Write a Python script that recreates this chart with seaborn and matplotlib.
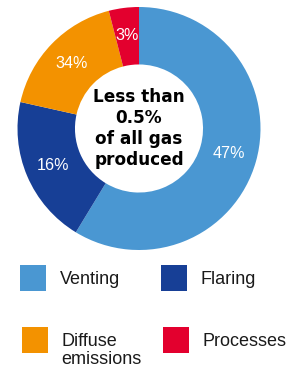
import matplotlib
matplotlib.use("Agg")
import matplotlib.pyplot as plt
import seaborn as sns
import numpy as np
from matplotlib.patches import Rectangle

# data (wedge shares as drawn, labels as printed)
sources = ["Venting", "Flaring", "Diffuse\nemissions", "Processes"]
shares = [58.7, 19.8, 17.5, 4.0]
pct_labels = ["47%", "16%", "34%", "3%"]
colors = ["#4A97D2", "#173F96", "#F39200", "#E3002E"]
center_text = "Less than\n0.5%\nof all gas\nproduced"

sns.set_theme(style="white")
plt.rcParams["font.family"] = ["Liberation Sans", "DejaVu Sans"]

W, H = 291, 370
fig = plt.figure(figsize=(W / 100, H / 100), dpi=100)
fig.patch.set_facecolor("white")


def px(x, y):
    return x / W, 1 - y / H


cx, cy, r = 139, 128.5, 121.5
ax = fig.add_axes([(cx - r) / W, (H - cy - r) / H, 2 * r / W, 2 * r / H])
wedges, _ = ax.pie(shares, colors=colors, startangle=90, counterclock=False,
                   wedgeprops=dict(width=0.473, linewidth=0))
ax.set_xlim(-1, 1)
ax.set_ylim(-1, 1)
ax.set_aspect("equal")
ax.axis("off")

for w, lab in zip(wedges, pct_labels):
    ang = np.deg2rad((w.theta1 + w.theta2) / 2)
    ax.text(0.77 * np.cos(ang), 0.77 * np.sin(ang), lab, color="white",
            fontsize=11.6, ha="center", va="center")

ax.text(0, 0, center_text, ha="center", va="center", fontsize=12.2,
        fontweight="bold", family="DejaVu Sans", linespacing=1.2, color="black")

# legend, two columns
cols_x = [20, 161]
rows_y = [265, 327]
for i, (name, col) in enumerate(zip(sources, colors)):
    x0 = cols_x[i % 2] + (i // 2) * 1.5
    y0 = rows_y[i // 2]
    fx, fy = px(x0, y0 + 26)
    fig.add_artist(Rectangle((fx, fy), 26 / W, 26 / H, transform=fig.transFigure,
                             facecolor=col, edgecolor="none"))
    tx, ty = px(x0 + 40, y0 + 5.5)
    fig.text(tx, ty, name, fontsize=13, color="#1a1a1a", ha="left", va="top",
             linespacing=1.15)

fig.savefig("out.png", dpi=100, facecolor="white")
